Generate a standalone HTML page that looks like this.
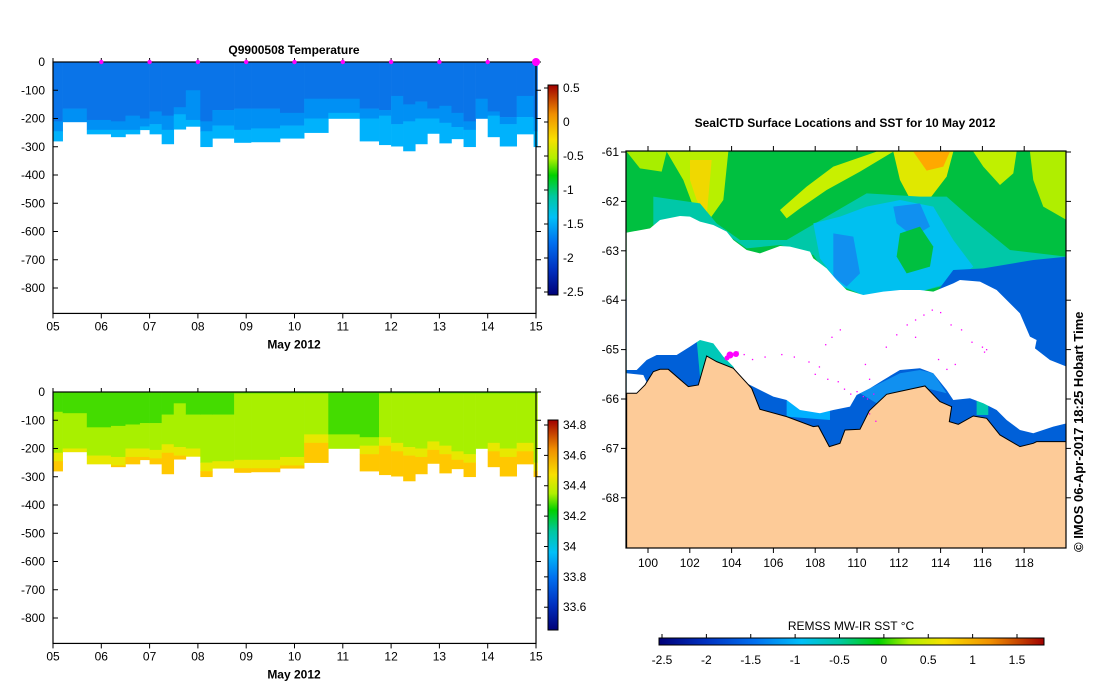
<!DOCTYPE html>
<html><head><meta charset="utf-8"><title>Q9900508 SealCTD</title>
<style>
html,body{margin:0;padding:0;background:#fff;}
svg{display:block;font-family:"Liberation Sans",sans-serif;}
</style></head>
<body>
<svg id="root" width="1099" height="700" viewBox="0 0 1099 700" xmlns="http://www.w3.org/2000/svg">
<defs>
<linearGradient id="jetV" x1="0" y1="1" x2="0" y2="0">
<stop offset="0" stop-color="#000078"/><stop offset="0.12" stop-color="#0030c0"/>
<stop offset="0.25" stop-color="#0070f0"/><stop offset="0.37" stop-color="#00c0f8"/>
<stop offset="0.47" stop-color="#00c8a0"/><stop offset="0.57" stop-color="#00d000"/>
<stop offset="0.65" stop-color="#b0f000"/><stop offset="0.74" stop-color="#f8e000"/>
<stop offset="0.86" stop-color="#f09000"/><stop offset="1" stop-color="#a00000"/>
</linearGradient>
<linearGradient id="jetH" x1="0" y1="0" x2="1" y2="0">
<stop offset="0" stop-color="#000078"/><stop offset="0.12" stop-color="#0030c0"/>
<stop offset="0.25" stop-color="#0070f0"/><stop offset="0.37" stop-color="#00c0f8"/>
<stop offset="0.47" stop-color="#00c8a0"/><stop offset="0.57" stop-color="#00d000"/>
<stop offset="0.65" stop-color="#b0f000"/><stop offset="0.74" stop-color="#f8e000"/>
<stop offset="0.86" stop-color="#f09000"/><stop offset="1" stop-color="#a00000"/>
</linearGradient>
<clipPath id="mapclip"><rect x="626" y="151" width="440" height="397"/></clipPath>
</defs>

<text x="294" y="54" text-anchor="middle" font-size="12" font-weight="bold">Q9900508  Temperature</text>
<g id="p1"></g>
<g id="p2"></g>

<text x="845" y="127" text-anchor="middle" font-size="12" font-weight="bold">SealCTD Surface Locations and SST for 10 May 2012</text>

<g clip-path="url(#mapclip)">
 <rect x="626" y="151" width="440" height="397" fill="#00c040"/>
 <g transform="translate(600,140) scale(0.3333)">
  <polygon fill="#a8ee00" points="80,35 200,35 185,95 120,85"/>
  <polygon fill="#b8f000" points="200,35 385,35 370,180 320,250 280,200 250,120"/>
  <polygon fill="#f0d800" points="270,60 335,60 320,230 290,180 270,120"/>
  <polygon fill="#c8f000" points="540,210 620,140 700,80 830,35 880,35 780,95 680,150 600,205 560,235"/>
  <polygon fill="#e0e800" points="880,35 1060,35 1040,110 990,175 940,195 900,120"/>
  <polygon fill="#ffa800" points="940,35 1050,35 1030,80 980,92"/>
  <polygon fill="#c0f000" points="1120,35 1250,35 1240,100 1200,135 1150,80"/>
  <polygon fill="#b0ee00" points="1290,35 1400,35 1400,240 1330,200 1300,120"/>
  <polygon fill="#00c8a8" points="160,170 300,190 350,250 420,300 560,300 680,230 800,160 960,170 1040,170 1120,240 1230,330 1400,350 1400,420 1060,430 960,455 800,470 700,430 640,345 540,315 440,325 340,255 260,245 160,255"/>
  <polygon fill="#00c0f0" points="640,250 720,230 800,200 900,180 1000,200 1060,300 1120,380 1060,425 960,455 800,470 720,435 660,355"/>
  <polygon fill="#1090f0" points="700,280 760,290 780,400 740,440 700,410"/>
  <polygon fill="#1090f0" points="880,200 960,190 990,260 940,290 890,250"/>
  <polygon fill="#00c040" points="900,280 960,260 1000,320 990,380 920,400 890,350"/>
  <polygon fill="#0060d8" points="1000,470 1060,390 1150,385 1300,360 1400,350 1400,1300 80,1300 80,470"/>
  <polygon fill="#1088f0" points="80,480 125,520 105,560 120,600 80,620"/>
  <polygon fill="#00c8b8" points="290,600 370,600 405,690 300,710"/>
  <polygon fill="#00b0ff" points="560,780 690,800 690,840 560,830"/>
  <polygon fill="#00c8b0" points="1130,770 1165,770 1165,825 1130,825"/>
  <polygon fill="#1090f0" points="780,760 860,720 900,700 960,690 1000,700 1040,760 980,745 880,760 830,790"/>
  <polygon fill="#ffffff" points="80,278 150,265 180,240 240,228 270,230 300,245 340,255 380,275 400,300 440,330 480,340 540,318 570,320 630,335 640,355 680,385 710,420 740,450 790,465 850,455 900,450 960,450 1000,455 1060,430 1080,420 1140,425 1190,450 1220,480 1260,520 1290,590 1310,600 1305,625 1350,660 1400,680 1400,850 1360,860 1300,880 1260,870 1220,840 1190,810 1150,790 1110,775 1060,780 1040,750 1000,700 960,685 900,690 850,720 810,745 770,765 750,800 700,810 660,820 600,810 560,780 520,770 460,740 420,720 400,680 370,650 340,610 300,600 270,620 230,645 170,645 140,660 110,690 90,690 80,690"/>
  <polygon fill="#ffffff" points="80,700 130,705 155,760 120,775 80,770"/>
  <polygon fill="#fdcb98" stroke="#000" stroke-width="3" points="80,760 110,760 135,735 160,695 180,688 205,688 265,740 295,735 320,648 350,665 400,685 455,745 480,808 560,830 640,860 655,858 688,920 720,910 735,870 780,868 808,812 860,763 975,738 1020,785 1055,800 1048,845 1075,853 1120,828 1160,835 1200,885 1260,920 1300,910 1310,905 1400,905 1400,1300 80,1300"/>
 </g>
 <g id="dots" fill="#ff00ff">
  <circle cx="730" cy="355" r="3.5"/><circle cx="736" cy="354" r="3"/><circle cx="727" cy="358" r="2.5"/>
 </g>
</g>
<rect x="626" y="151" width="440" height="397" fill="none" stroke="#000" stroke-width="1.2"/>
<g id="mapaxes" font-size="12"></g>

<text transform="translate(1083,552) rotate(-90)" font-size="13" font-weight="bold">© IMOS 06-Apr-2017 18:25 Hobart Time</text>

<text x="851" y="630" text-anchor="middle" font-size="12">REMSS MW-IR SST °C</text>
<rect x="659" y="638" width="385" height="7" fill="url(#jetH)" stroke="#000" stroke-width="1"/>
<g id="sstcb" font-size="12"></g>
</svg>

<script>
// Profile data (shared by both sections)
const profStart = [5.0,5.2,5.7,6.2,6.5,6.8,7.0,7.25,7.5,7.75,8.05,8.3,8.75,9.1,9.7,10.2,10.7,11.35,11.75,12.0,12.25,12.5,12.75,13.0,13.25,13.5,13.75,14.0,14.25,14.6,14.95];
const profDepth = [280,212,255,265,255,240,255,290,238,228,300,270,285,283,270,250,200,280,293,298,315,290,253,287,272,300,200,265,298,255,300];
// temperature layer boundaries (m)
const tempL1 = [210,165,205,210,190,200,175,190,160,100,210,170,165,165,180,130,130,165,170,120,150,140,165,155,180,210,130,175,195,120,200];
const tempL2 = [245,212,240,240,240,228,220,240,185,205,245,225,240,235,225,200,180,200,190,220,210,200,200,215,230,240,200,190,220,195,245];
// salinity layer boundaries (m)
const salL1 = [70,75,125,120,115,110,110,80,40,80,80,80,5,5,5,5,150,160,5,5,5,5,5,5,5,5,5,5,5,5,5];
const salL2 = [215,200,225,230,200,200,205,185,195,200,250,245,240,240,230,150,200,190,160,180,195,200,175,190,210,220,200,180,200,180,250];
// ticks
const depthTicks = [0,-100,-200,-300,-400,-500,-600,-700,-800];
const dayTicks = ["05","06","07","08","09","10","11","12","13","14","15"];
const tempCbTicks = [0.5,0,-0.5,-1,-1.5,-2,-2.5];
const salCbTicks = [34.8,34.6,34.4,34.2,34,33.8,33.6];
const lonTicks = [100,102,104,106,108,110,112,114,116,118];
const latTicks = [-61,-62,-63,-64,-65,-66,-67,-68];
const sstTicks = [-2.5,-2,-1.5,-1,-0.5,0,0.5,1,1.5];
const markerDays = [6,7,8,9,10,11,12,13,14,15];
// seal surface positions (lon, lat) for map
const sealLon = [104.3,104.6,105.0,105.6,106.4,107.0,107.7,108.0,108.6,109.1,109.4,109.7,110.0,110.3,110.5,110.6,110.9,111.4,111.9,112.4,112.8,113.2,113.6,114.0,114.5,115.0,115.5,116.0,116.1,116.2,108.2,108.5,108.8,109.2,110.4,110.6,110.8,112.8,113.9,114.3,114.7];
const sealLat = [-65.05,-65.1,-65.2,-65.15,-65.1,-65.15,-65.25,-65.5,-65.6,-65.65,-65.8,-65.9,-65.85,-65.95,-66.0,-66.3,-66.45,-64.95,-64.7,-64.5,-64.4,-64.3,-64.2,-64.25,-64.5,-64.6,-64.85,-64.95,-65.05,-65.0,-65.35,-64.9,-64.75,-64.6,-65.3,-65.6,-65.9,-64.75,-65.2,-65.4,-65.3];

const NS="http://www.w3.org/2000/svg";
function mk(tag,attrs,parent,txt){const e=document.createElementNS(NS,tag);for(const k in attrs)e.setAttribute(k,attrs[k]);if(txt!==undefined)e.textContent=txt;parent.appendChild(e);return e;}
const X0=53,X1=536;
function xd(d){return X0+(d-5)*(X1-X0)/10;}
function colorbar(g,x,yTop,yBot,vTop,vBot,ticks){
  const r=mk('rect',{x:x,y:yTop,width:10,height:yBot-yTop,fill:'url(#jetV)',stroke:'#000','stroke-width':1},g);
  
  
  ticks.forEach(t=>{const y=yTop+(vTop-t)/(vTop-vBot)*(yBot-yTop);
    mk('line',{x1:x-4,x2:x,y1:y,y2:y,stroke:'#000'},g);
    const tx=mk('text',{x:x+15,y:y+4,'font-size':12},g,String(t));
    
    });
}
function section(gid,y0,layerFn){
  const g=document.getElementById(gid);
  const yd=z=>y0+z*0.2825;
  const bot=y0+890*0.2825;
  profStart.forEach((s,i)=>{
    const e=(i+1<profStart.length?profStart[i+1]:15.03);
    const xa=xd(s),xb=xd(e);
    layerFn(i).forEach(L=>{
      const a=Math.min(L[0],profDepth[i]),b=Math.min(L[1],profDepth[i]);
      if(b>a){const r=mk('rect',{x:xa,y:yd(a),width:xb-xa+0.3,height:yd(b)-yd(a)+0.3,fill:L[2]},g);
        
        }
    });
  });
  mk('rect',{x:X0,y:y0,width:X1-X0,height:bot-y0,fill:'none',stroke:'#000','stroke-width':1.2},g);
  depthTicks.forEach(t=>{const y=yd(-t);
    mk('line',{x1:X0,x2:X0+5,y1:y,y2:y,stroke:'#000'},g);
    mk('line',{x1:X1,x2:X1+5,y1:y,y2:y,stroke:'#000'},g);
    const tx=mk('text',{x:45,y:y+4,'font-size':12,'text-anchor':'end'},g,String(t));
    
    });
  dayTicks.forEach((d,i)=>{const x=xd(5+i);
    mk('line',{x1:x,x2:x,y1:bot,y2:bot+5,stroke:'#000'},g);
    mk('line',{x1:x,x2:x,y1:y0,y2:y0-4,stroke:'#000'},g);
    const tx=mk('text',{x:x,y:bot+17,'font-size':12,'text-anchor':'middle'},g,d);
    
    });
  const xl=mk('text',{x:294,y:bot+35,'font-size':12,'font-weight':'bold','text-anchor':'middle'},g,'May 2012');
  
  
  return g;
}
const g1=section('p1',62,i=>[[0,tempL1[i],'#0a74e8'],[tempL1[i],tempL2[i],'#0090f4'],[tempL2[i],400,'#00b2fc']]);
markerDays.forEach(d=>{const c=mk('circle',{cx:xd(d),cy:62,r:d===15?4:2.2,fill:'#ff00ff'},g1);
  
  });
colorbar(g1,548,85,295,0.544,-2.544,tempCbTicks);
const g2=section('p2',392,i=>[[0,salL1[i],'#44dc00'],[salL1[i],salL2[i],'#a8f000'],[salL2[i],salL2[i]+30,'#e8e800'],[salL2[i]+30,400,'#ffc800']]);
colorbar(g2,548,420,630,34.833,33.45,salCbTicks);

// map axes
const mg=document.getElementById('mapaxes');
const lonX=l=>648+(l-100)*20.9, latY=l=>152+(-61-l)*49.4;
lonTicks.forEach(l=>{const x=lonX(l);
  mk('line',{x1:x,x2:x,y1:548,y2:553,stroke:'#000'},mg);
  mk('line',{x1:x,x2:x,y1:151,y2:146,stroke:'#000'},mg);
  const t=mk('text',{x:x,y:567,'text-anchor':'middle'},mg,String(l));
  
  });
latTicks.forEach(l=>{const y=latY(l);
  mk('line',{x1:621,x2:626,y1:y,y2:y,stroke:'#000'},mg);
  mk('line',{x1:1066,x2:1071,y1:y,y2:y,stroke:'#000'},mg);
  const t=mk('text',{x:619,y:y+4,'text-anchor':'end'},mg,String(l));
  
  });
const dg=document.getElementById('dots');
sealLon.forEach((l,i)=>{const c=mk('rect',{x:lonX(l)-0.6,y:latY(sealLat[i])-0.6,width:1.3,height:1.3,fill:'#ff00ff'},dg);
  
  });
// sst colorbar ticks
const sg=document.getElementById('sstcb');
sstTicks.forEach(v=>{const x=662+(v+2.5)*88.75;
  mk('line',{x1:x,x2:x,y1:634,y2:638,stroke:'#000'},sg);
  const t=mk('text',{x:x,y:664,'text-anchor':'middle'},sg,String(v));
  
  });
</script>
</body></html>
